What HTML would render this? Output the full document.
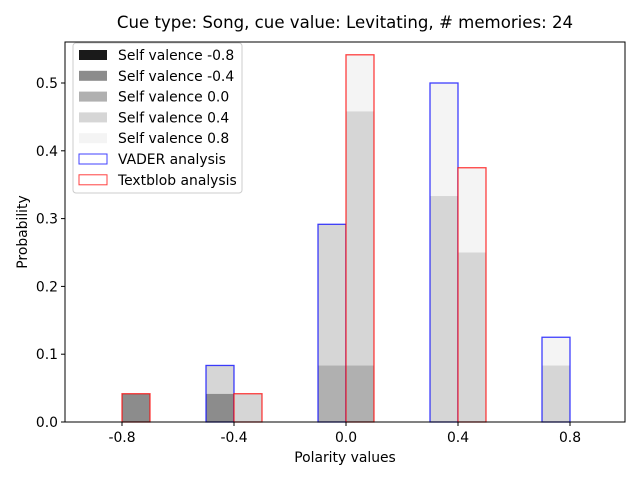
<!DOCTYPE html>
<html><head><meta charset="utf-8"><style>
body{margin:0;background:#fff;}
svg text{font-family:"DejaVu Sans","Liberation Sans",sans-serif;}
</style></head><body>
<svg id="chart" width="640" height="480" viewBox="0 0 640 480" xmlns="http://www.w3.org/2000/svg">
<rect width="640" height="480" fill="#fff"/>
<g id="bars"></g>
<g id="axes"></g>
<text x="345" y="28" font-size="16.6" text-anchor="middle">Cue type: Song, cue value: Levitating, # memories: 24</text>
<text x="345" y="462" font-size="13.9" text-anchor="middle">Polarity values</text>
<text transform="translate(27,232) rotate(-90)" font-size="13.9" text-anchor="middle">Probability</text>
<g id="legend"></g>
</svg>
<script>
const categories=[-0.8,-0.4,0.0,0.4,0.8];
const valenceLabels=["Self valence -0.8","Self valence -0.4","Self valence 0.0","Self valence 0.4","Self valence 0.8"];
const vaderStack=[[0,0,0,0,0],[0,0.0417,0,0.0417,0],[0,0,0.0833,0.2083,0],[0,0,0,0.3333,0.1667],[0,0,0,0.0833,0.0417]];
const textblobStack=[[0,0.0417,0,0,0],[0,0,0,0.0417,0],[0,0,0.0833,0.375,0.0833],[0,0,0,0.25,0.125],[0,0,0,0,0]];
const yTicks=[0,0.1,0.2,0.3,0.4,0.5];
const xTicks=[-0.8,-0.4,0.0,0.4,0.8];
const shades=["#1a1a1a","#8c8c8c","#b0b0b0","#d6d6d6","#f4f4f4"];
const L=65,R=625,T=42,B=422;
const xs=v=>346+(v)*280;
const ys=v=>B-v*678;
const NS="http://www.w3.org/2000/svg";
function mk(t,a,p){const e=document.createElementNS(NS,t);for(const k in a)e.setAttribute(k,a[k]);p.appendChild(e);return e;}
const bars=document.getElementById('bars');
function drawBar(stack,x0,edge,name,i){
  let acc=0;
  stack.forEach((v,j)=>{ if(v>0){const r=mk('rect',{x:xs(x0),y:ys(acc+v),width:xs(x0+0.1)-xs(x0),height:ys(acc)-ys(acc+v),fill:shades[j]},bars);
    
    } acc+=v;});
  const o=mk('rect',{x:xs(x0),y:ys(acc),width:xs(x0+0.1)-xs(x0),height:ys(0)-ys(acc),fill:'none',stroke:edge,'stroke-opacity':0.75,'stroke-width':1.3},bars);
  
  
}
categories.forEach((c,i)=>{drawBar(vaderStack[i],c-0.1,'#0000ff','vader',i);drawBar(textblobStack[i],c,'#ff0000','textblob',i);});
const ax=document.getElementById('axes');
mk('rect',{x:L,y:T,width:R-L,height:B-T,fill:'none',stroke:'#000','stroke-width':1},ax);
yTicks.forEach(v=>{mk('line',{x1:L,x2:L-4,y1:ys(v),y2:ys(v),stroke:'#000'},ax);
  const t=mk('text',{x:L-7,y:ys(v)+5,'font-size':13.9,'text-anchor':'end'},ax);t.textContent=v.toFixed(1);
  
  });
xTicks.forEach(v=>{mk('line',{x1:xs(v),x2:xs(v),y1:B,y2:B+4,stroke:'#000'},ax);
  const t=mk('text',{x:xs(v),y:B+20,'font-size':13.9,'text-anchor':'middle'},ax);t.textContent=v.toFixed(1);
  
  });
const lg=document.getElementById('legend');
mk('rect',{x:73,y:43,width:169,height:150,rx:3,fill:'#fff','fill-opacity':0.8,stroke:'#ccc'},lg);
const entries=valenceLabels.map((l,j)=>({l,fill:shades[j],stroke:'none'})).concat([{l:"VADER analysis",fill:'none',stroke:'#0000ff'},{l:"Textblob analysis",fill:'none',stroke:'#ff0000'}]);
entries.forEach((e,k)=>{const y=55+k*20.8;
  const g=mk('g',{},lg);
  
  
  mk('rect',{x:79,y:y-5,width:28,height:10,fill:e.fill,stroke:e.stroke,'stroke-opacity':0.75},g);
  const t=mk('text',{x:118,y:y+5,'font-size':13.9},g);t.textContent=e.l;});
</script>
</body></html>
